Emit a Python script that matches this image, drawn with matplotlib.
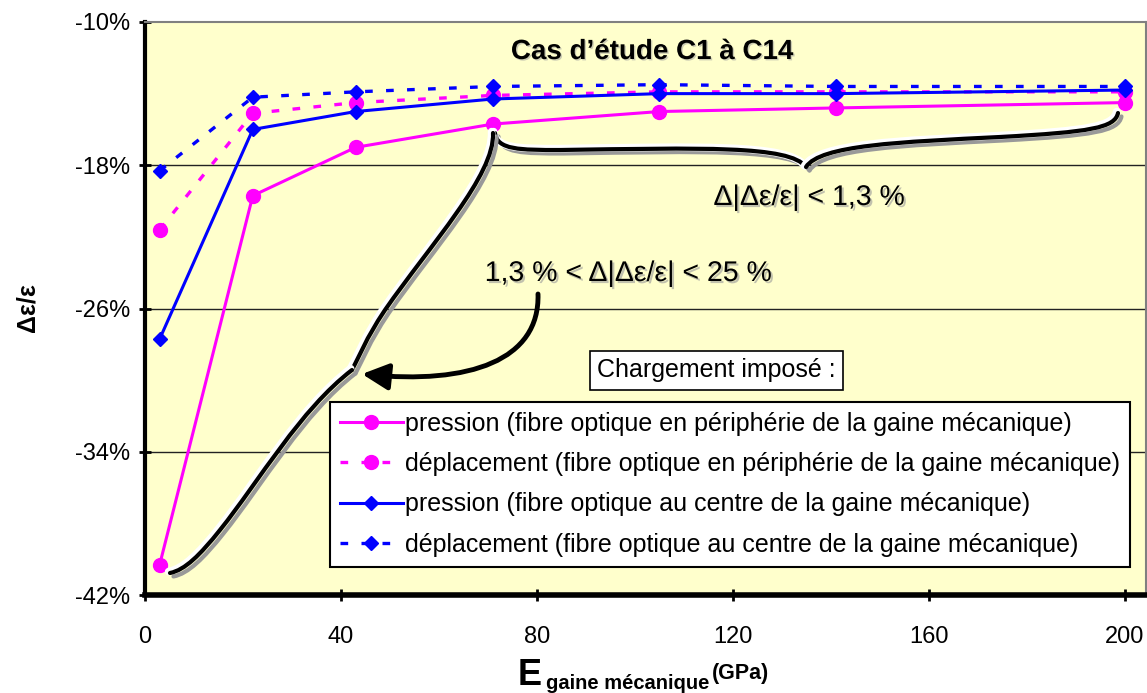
import matplotlib
matplotlib.use('Agg')
import matplotlib.pyplot as plt
import matplotlib.patheffects as pe
from matplotlib.path import Path
from matplotlib.patches import PathPatch, FancyArrowPatch

plt.rcParams['font.family'] = ['Liberation Sans', 'DejaVu Sans']

# E gaine mecanique (GPa)
e_gaine = [3, 22, 43, 71, 105, 141, 200]
# delta eps / eps (%)
pression_peripherie = [-40.3, -19.7, -17.0, -15.7, -15.0, -14.8, -14.5]
deplacement_peripherie = [-21.6, -15.1, -14.5, -14.1, -13.9, -13.9, -13.9]
pression_centre = [-27.7, -16.0, -15.0, -14.3, -14.0, -14.0, -13.8]
deplacement_centre = [-18.3, -14.2, -13.9, -13.6, -13.5, -13.6, -13.6]

labels = ['pression (fibre optique en périphérie de la gaine mécanique)',
          'déplacement (fibre optique en périphérie de la gaine mécanique)',
          'pression (fibre optique au centre de la gaine mécanique)',
          'déplacement (fibre optique au centre de la gaine mécanique)']

x_ticks = [0, 40, 80, 120, 160, 200]
y_ticks = [-42, -34, -26, -18, -10]

W, H = 1147, 693
fig = plt.figure(figsize=(W / 100, H / 100), dpi=100)
fig.patch.set_facecolor('white')
ax = fig.add_axes([145 / W, 1 - 595 / H, (1146 - 145) / W, (595 - 22) / H])
ax.set_facecolor('#FFFFCC')

XMAX = 204.3
ax.set_xlim(0, XMAX)
ax.set_ylim(-42, -10)


def px(x, y):
    # position in the reference picture -> data coords (for annotation shapes only)
    return ((x - 145) / (1146 - 145) * XMAX, -10 - (y - 22) / (595 - 22) * 32)


dash = (0, (2.3, 4.0))
ax.plot(e_gaine, pression_peripherie, color='#FF00FF', lw=2.2, marker='o', ms=10,
        label=labels[0], zorder=4)
ax.plot(e_gaine, deplacement_peripherie, color='#FF00FF', lw=2.4, ls=dash, marker='o', ms=10,
        label=labels[1], zorder=4)
ax.plot(e_gaine, pression_centre, color='#0000FF', lw=2.2, marker='D', ms=7.5,
        label=labels[2], zorder=5)
ax.plot(e_gaine, deplacement_centre, color='#0000FF', lw=2.4, ls=dash, marker='D', ms=7.5,
        label=labels[3], zorder=5)

# grid / axes
for v in y_ticks[1:-1]:
    ax.axhline(v, color='#222222', lw=1, zorder=1)
ax.spines['left'].set_linewidth(3)
ax.spines['bottom'].set_linewidth(4)
ax.spines['top'].set_color('#808080')
ax.spines['top'].set_linewidth(1.5)
ax.spines['right'].set_color('#808080')
ax.spines['right'].set_linewidth(1.5)
ax.set_xticks(x_ticks)
ax.set_xticklabels([str(t) for t in x_ticks])
ax.set_yticks(y_ticks)
ax.set_yticklabels([f'{t}%' for t in y_ticks])
ax.tick_params(axis='both', direction='inout', length=9, width=2, labelsize=17,
               colors='black')
ax.tick_params(axis='x', pad=18)
ax.tick_params(axis='y', pad=6)

# axis labels
fig.text(28 / W, 1 - 308 / H, 'Δε/ε', rotation=90, ha='center', va='center',
         fontsize=18, fontweight='bold')
fig.text(518 / W, 1 - 685 / H, 'E', ha='left', va='baseline', fontsize=26, fontweight='bold')
fig.text(546 / W, 1 - 689 / H, 'gaine mécanique', ha='left', va='baseline', fontsize=14.5,
         fontweight='bold')
fig.text(712 / W, 1 - 679 / H, '(GPa)', ha='left', va='baseline', fontsize=15.5, fontweight='bold')

# title
ax.text(*px(652, 52), 'Cas d’étude C1 à C14', ha='center', va='center', fontsize=20,
        fontweight='bold', zorder=6,
        path_effects=[pe.withSimplePatchShadow(offset=(1, -1), shadow_rgbFace='#999999', alpha=0.5)])

shadow_text = [pe.withSimplePatchShadow(offset=(1.5, -1.5), shadow_rgbFace='#999999', alpha=0.6)]
ax.text(*px(809, 198), 'Δ|Δε/ε| < 1,3 %', ha='center', va='center', fontsize=20.5,
        zorder=6, path_effects=shadow_text)
ax.text(*px(628, 274), '1,3 % < Δ|Δε/ε| < 25 %', ha='center', va='center', fontsize=20.5,
        zorder=6, path_effects=shadow_text)

# braces with shadow
brace_fx = [pe.SimpleLineShadow(offset=(2.5, -2.5), shadow_color='#999999', alpha=1),
            pe.Stroke(linewidth=5.5, foreground='white', offset=(-1, 1)),
            pe.Normal()]


def draw_curve(points, codes):
    verts = [px(*p) for p in points]
    patch = PathPatch(Path(verts, codes), facecolor='none', edgecolor='black', lw=3,
                      capstyle='round', joinstyle='round', zorder=6, path_effects=brace_fx)
    ax.add_patch(patch)


C4 = Path.CURVE4
M = Path.MOVETO
draw_curve([(495, 133), (497, 150), (520, 150), (560, 150),
            (700, 148), (790, 145), (806, 167)], [M, C4, C4, C4, C4, C4, C4])
draw_curve([(806, 167), (820, 145), (900, 142), (1000, 137),
            (1090, 132), (1115, 128), (1118, 113)], [M, C4, C4, C4, C4, C4, C4])
draw_curve([(352, 370), (360, 355), (365, 340), (385, 310),
            (430, 245), (495, 175), (493, 133)], [M, C4, C4, C4, C4, C4, C4])
draw_curve([(352, 370), (300, 410), (260, 480), (220, 530),
            (200, 555), (185, 570), (170, 573)], [M, C4, C4, C4, C4, C4, C4])

# arrow
arrow_path = Path([px(538, 294), px(540, 360), px(470, 385), px(362, 374)], [M, C4, C4, C4])
ax.add_patch(FancyArrowPatch(path=arrow_path, arrowstyle='-|>,head_length=0.8,head_width=0.4',
                             color='black', lw=3.5, zorder=6, mutation_scale=20))

# legend
leg = ax.legend(loc='lower left', bbox_to_anchor=(px(330, 0)[0] / XMAX, 28 / 573),
                fontsize=18, frameon=True, fancybox=False, framealpha=1,
                edgecolor='black', handlelength=2.5, handletextpad=0.1,
                labelspacing=0.66, borderpad=0.4, borderaxespad=0)
leg.get_frame().set_linewidth(1.5)
leg.set_zorder(7)

ax.text(*px(597, 370), 'Chargement imposé :', ha='left', va='center', fontsize=18, zorder=7,
        bbox=dict(boxstyle='square,pad=0.3', facecolor='white', edgecolor='black', lw=1.2))

fig.savefig('out.png', dpi=100)
